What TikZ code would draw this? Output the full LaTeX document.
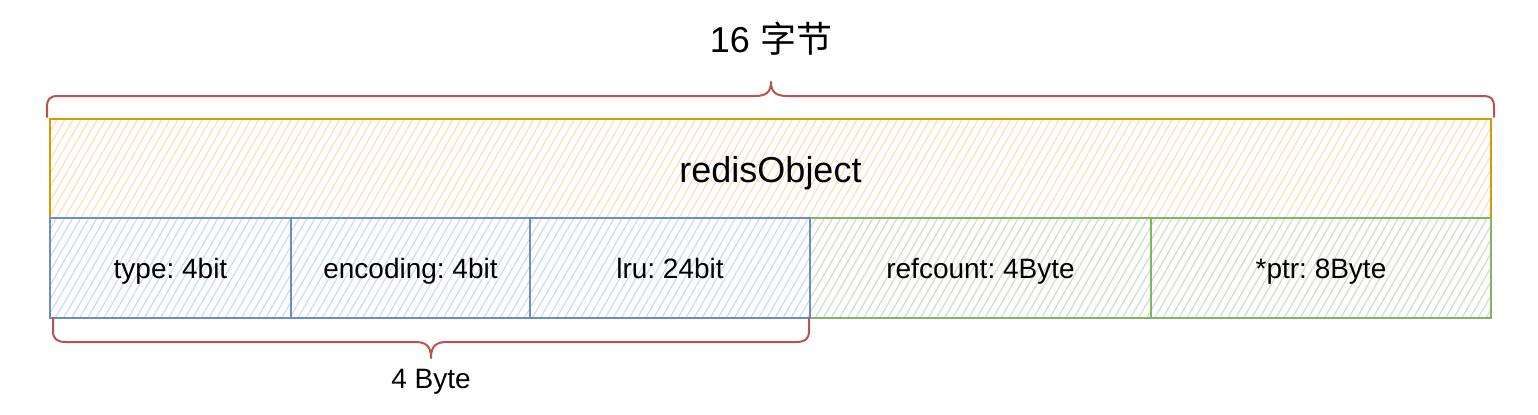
\documentclass[tikz,border=0pt]{standalone}
\usepackage{fontspec}
\setmainfont{Liberation Sans}
\newfontfamily\cjk{Noto Sans CJK SC}
\usetikzlibrary{patterns.meta}
\definecolor{objline}{HTML}{D79B00}
\definecolor{objfill}{HTML}{FFDDBA}
\definecolor{bluline}{HTML}{6C8EBF}
\definecolor{blufill}{HTML}{C9DCF3}
\definecolor{grnline}{HTML}{82B366}
\definecolor{grnfill}{HTML}{CAE0C8}
\definecolor{braceline}{HTML}{B85450}
\frenchspacing

\begin{document}
\begin{tikzpicture}[x=0.5pt, y=-0.5pt, every node/.style={font=\fontsize{14}{16}\selectfont, anchor=base},
  hatch/.style={pattern={Lines[angle=60, distance=3.5pt, line width=0.6pt]}},
  objbox/.style={hatch, pattern color=objfill, draw=objline, line width=1pt},
  blucell/.style={hatch, pattern color=blufill, draw=bluline, line width=1pt},
  grncell/.style={hatch, pattern color=grnfill, draw=grnline, line width=1pt},
  bracepath/.style={draw=braceline, line width=1pt, line join=round, line cap=round}]
  \useasboundingbox (0,0) rectangle (1538,414);
  % whole object, 16 bytes
  \draw[objbox] (50,119) rectangle (1491,218);
  \node[font=\fontsize{18}{20}\selectfont] (obj) at (770.5,182) {redisObject};
  % 8-byte fields
  \draw[grncell] (810,218) rectangle (1151,318);
  \node (refcount) at (980.5,278) {refcount: 4Byte};
  \draw[grncell] (1151,218) rectangle (1491,318);
  \node (ptr) at (1321,278) {*ptr: 8Byte};
  % bit fields packed in the first 4 bytes
  \foreach \xa/\xb/\nm/\txt in {50/291/type/{type: 4bit}, 291/530/encoding/{encoding: 4bit}, 530/810/lru/{lru: 24bit}} {
    \draw[blucell] (\xa,218) rectangle (\xb,318);
    \node (\nm) at ({(\xa+\xb)/2},278) {\txt};
  }
  % top brace
  \draw[bracepath] (47,117) -- (47,107) .. controls (47,99) and (50,96) .. (58,96)
    -- (755,96) .. controls (766,96) and (771,92) .. (771,82)
    .. controls (771,92) and (776,96) .. (787,96)
    -- (1484,96) .. controls (1491,96) and (1494,99) .. (1494,107) -- (1494,117);
  \node[font=\fontsize{18}{20}\selectfont] (total) at (771,52) {16 {\cjk 字节}};
  % bottom brace
  \draw[bracepath] (53,318) -- (53,331) .. controls (53,339) and (57,342) .. (66,342)
    -- (415,342) .. controls (426,342) and (431,346) .. (431,358)
    .. controls (431,346) and (436,342) .. (447,342)
    -- (796,342) .. controls (805,342) and (809,339) .. (809,331) -- (809,318);
  \node (fourbyte) at (431,388) {4 Byte};
\end{tikzpicture}
\end{document}
